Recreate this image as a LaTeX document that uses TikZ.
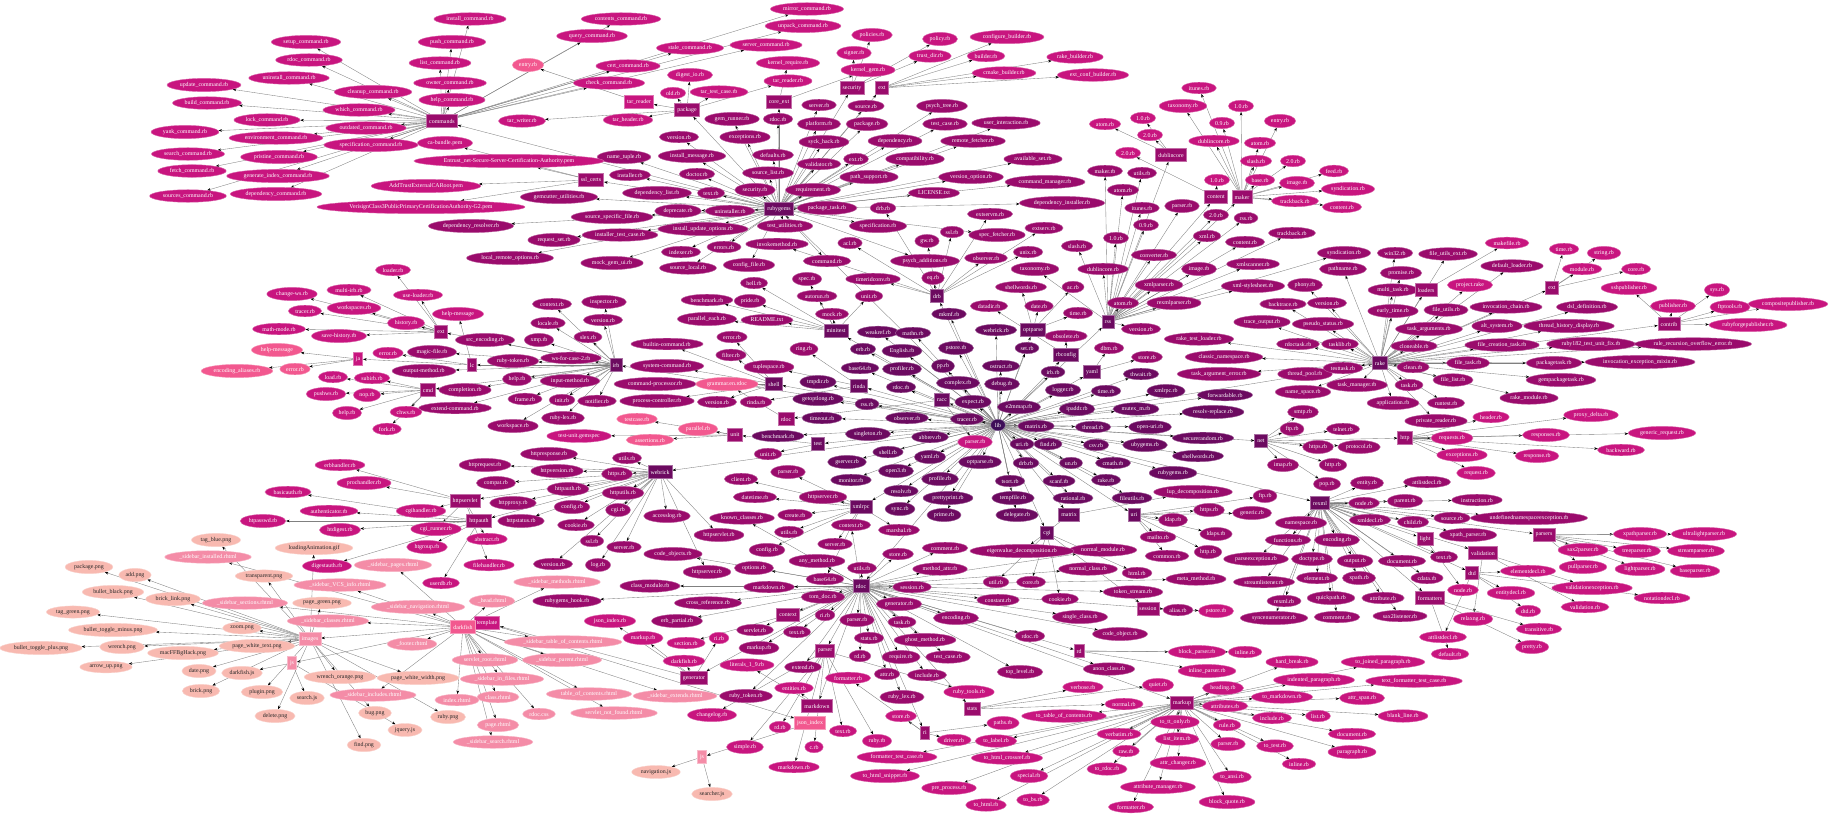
\documentclass[tikz,border=0pt]{standalone}
\usepackage{fontspec}
\setmainfont{Liberation Serif}
\usetikzlibrary{shapes.geometric,arrows.meta}
\pgfdeclarelayer{bgl}
\pgfsetlayers{bgl,main}
\definecolor{cL}{HTML}{3E0E58}
\definecolor{cC}{HTML}{6C0A60}
\definecolor{cB}{HTML}{9A0B6C}
\definecolor{cA}{HTML}{C8157F}
\definecolor{cP}{HTML}{F2588F}
\definecolor{cQ}{HTML}{F48CA7}
\definecolor{cR}{HTML}{F8B9B0}
\tikzset{
  tinyfont/.style={font=\fontsize{5.9}{6.4}\selectfont},
  ovl/.style={ellipse, tinyfont, inner sep=2pt, text=white, fill=#1, draw=#1!65!white, line width=0.4pt},
  ovr/.style={ovl=cR, text=black!85},
  bxx/.style={rectangle, tinyfont, inner xsep=2.6pt, inner ysep=2pt, minimum height=13pt, text=white, fill=#1, draw=#1!60!white, line width=0.7pt},
  lnk/.style={draw=black!50, line width=0.35pt, -{Stealth[length=3.6pt,width=2.6pt,black]}},
}
\newcommand\edgelist{}
\newcommand\myedge[2]{\draw[lnk] (#1) -- (#2);}
\newcommand\mygrp[3]{\foreach \nn/\xa/\ya/\la in {#3}{\node[#1] (\nn) at (\xa,\ya) {\la};\xdef\edgelist{\unexpanded\expandafter{\edgelist}\noexpand\myedge{#2}{\nn}}}}
\catcode`\_=12
\begin{document}
\begin{tikzpicture}[x=1pt,y=-1pt]
\useasboundingbox (0,0) rectangle (1833,816);
\node[ovl=cL] (lib) at (998,425) {lib};
% top-level directories
\mygrp{bxx=cC}{lib}{rg/779/209/rubygems, irb/616/365/irb, shl/774/384/shell, mt/836/331/minitest, rin/859/386/rinda, drb/937/296/drb, opt/1033/330/optparse, rss/1108/322/rss, rbc/1066/355/rbconfig, yml/1092/372/yaml, racc/942/400/racc, net/1261/441/net, rake/1380/363/rake, rex/1320/503/rexml, uri/1134/515/uri, mat/1069/515/matrix, cgi/1047/533/cgi, rdoc/861/586/rdoc, web/660/472/webrick, tst/818/444/test, xr/861/507/xmlrpc}
% top-level files
\mygrp{ovl=cC}{lib}{l1/878/332/weakref.rb, l2/913/333/mathn.rb, l3/863/349/erb.rb, l4/902/351/English.rb, l5/860/368/base64.rb, l6/902/369/profiler.rb, l7/818/382/tmpdir.rb, l8/901/387/rdoc.rb, l9/818/399/getoptlong.rb, l10/867/404/rss.rb, l11/822/418/timeout.rb, l12/907/418/observer.rb, l13/778/436/benchmark.rb, l14/868/434/singleton.rb, l15/888/452/shell.rb, l16/847/462/gserver.rb, l17/896/471/open3.rb, l18/851/480/monitor.rb, l19/901/491/resolv.rb, l20/900/509/sync.rb, l21/949/314/mkmf.rb, l22/996/330/webrick.rb, l23/956/348/pstore.rb, l24/1027/348/set.rb, l25/943/366/pp.rb, l26/1001/366/ostruct.rb, l27/958/383/complex.rb, l28/1002/384/debug.rb, l29/1053/372/irb.rb, l30/1063/390/logger.rb, l31/1106/391/time.rb, l32/1166/391/xmlrpc.rb, l33/1225/395/forwardable.rb, l34/1141/374/thwait.rb, l35/973/402/expect.rb, l36/1019/407/e2mmap.rb, l37/1077/409/ipaddr.rb, l38/1136/409/mutex_m.rb, l39/1213/412/resolv-replace.rb, l40/967/419/tracer.rb, l41/1036/426/matrix.rb, l42/1093/427/thread.rb, l43/1150/427/open-uri.rb, l44/930/437/abbrev.rb, l45/1203/438/securerandom.rb, l46/1022/444/uri.rb, l47/1048/444/find.rb, l48/1096/445/csv.rb, l49/1145/445/ubygems.rb, l50/1198/456/shellwords.rb, l51/930/457/yaml.rb, l52/980/462/optparse.rb, l53/1026/463/drb.rb, l54/1071/463/un.rb, l55/1113/463/cmath.rb, l56/1173/473/rubygems.rb, l57/940/479/profile.rb, l58/1010/481/tsort.rb, l59/1059/481/scanf.rb, l60/1106/480/rake.rb, l61/948/498/prettyprint.rb, l62/1013/498/tempfile.rb, l63/1073/498/rational.rb, l64/1132/498/fileutils.rb, l65/944/515/prime.rb, l66/1017/515/delegate.rb}
% rubygems
\mygrp{ovl=cB}{rg}{g1/819/105/server.rb, g2/866/106/source.rb, g3/778/119/rdoc.rb, g4/732/119/gem_runner.rb, g5/819/124/platform.rb, g6/867/124/package.rb, g7/745/137/exceptions.rb, g8/824/142/syck_hack.rb, g9/895/141/dependency.rb, g10/679/137/version.rb, g11/692/156/install_message.rb, g12/773/155/defaults.rb, g13/856/159/ext.rb, g14/915/159/compatibility.rb, g15/624/157/name_tuple.rb, g16/697/174/doctor.rb, g17/819/164/validator.rb, g18/768/173/source_list.rb, g19/869/177/path_support.rb, g20/630/175/installer.rb, g21/657/193/dependency_list.rb, g22/711/193/text.rb, g23/755/190/security.rb, g24/813/190/requirement.rb, g25/559/197/gemcutter_utilities.rb, g26/827/208/package_task.rb, g27/934/193/LICENSE.txt, g28/678/211/deprecate.rb, g29/730/211/uninstaller.rb, g30/612/217/source_specific_file.rb, g31/878/226/specification.rb, g32/703/229/install_update_options.rb, g33/620/235/installer_test_case.rb, g34/785/226/test_utilities.rb, g35/554/240/request_set.rb, g36/471/226/dependency_resolver.rb, g37/510/258/local_remote_options.rb, g38/681/252/indexer.rb, g39/724/247/errors.rb, g40/827/261/command.rb, g41/612/263/mock_gem_ui.rb, g42/749/265/config_file.rb, g43/688/268/source_local.rb, g44/942/106/psych_tree.rb, g45/945/124/test_case.rb, g46/1006/123/user_interaction.rb, g47/973/141/remote_fetcher.rb, g48/1033/159/available_set.rb, g49/971/177/version_option.rb, g50/1045/182/command_manager.rb, g51/1062/203/dependency_installer.rb, g52/997/235/spec_fetcher.rb, g53/925/261/psych_additions.rb}
\mygrp{bxx=cB}{rg}{cmds/442/121/commands, ssl/591/180/ssl_certs, pkg/687/110/package, cext/779/102/core_ext, sec/852/88/security, gext/882/88/ext}
\mygrp{ovl=cA}{cmds}{c1/470/19/install_command.rb, c2/452/42/push_command.rb, c3/440/63/list_command.rb, c4/450/83/owner_command.rb, c5/452/100/help_command.rb, c6/621/19/contents_command.rb, c7/807/9/mirror_command.rb, c8/803/26/unpack_command.rb, c9/592/36/query_command.rb, c10/690/48/stale_command.rb, c11/766/45/server_command.rb, c12/628/66/cert_command.rb, c13/609/83/check_command.rb, c14/306/42/setup_command.rb, c15/309/60/rdoc_command.rb, c16/289/78/uninstall_command.rb, c17/204/85/update_command.rb, c18/373/92/cleanup_command.rb, c19/207/103/build_command.rb, c20/359/110/which_command.rb, c21/267/120/lock_command.rb, c22/185/132/yank_command.rb, c23/366/128/outdated_command.rb, c24/276/138/environment_command.rb, c25/371/145/specification_command.rb, c26/188/154/search_command.rb, c27/279/157/pristine_command.rb, c28/192/171/fetch_command.rb, c29/278/176/generate_index_command.rb, c30/188/196/sources_command.rb, c31/276/194/dependency_command.rb}
\mygrp{ovl=cA}{ssl}{s1/445/143/ca-bundle.pem, s2/509/161/Entrust_net-Secure-Server-Certification-Authority.pem, s3/426/186/AddTrustExternalCARoot.pem, s4/421/207/VerisignClass3PublicPrimaryCertificationAuthority-G2.pem}
\mygrp{ovl=cA}{pkg}{p1/673/93/old.rb, p2/690/75/digest_io.rb, p3/719/92/tar_test_case.rb, p4/628/120/tar_header.rb, p5/522/121/tar_writer.rb, p6/788/81/tar_reader.rb}
\mygrp{bxx=cA}{pkg}{tarr/639/102/tar_reader}
\mygrp{ovl=cP}{tarr}{pe/528/65/entry.rb}
\mygrp{ovl=cA}{cext}{k1/788/63/kernel_require.rb, k2/868/70/kernel_gem.rb}
\mygrp{ovl=cA}{sec}{y1/872/35/policies.rb, y2/854/53/signer.rb, y3/940/39/policy.rb, y4/930/56/trust_dir.rb}
\mygrp{ovl=cA}{gext}{x1/986/56/builder.rb, x2/1007/37/configure_builder.rb, x3/1075/57/rake_builder.rb, x4/1004/73/cmake_builder.rb, x5/1093/75/ext_conf_builder.rb}
% irb
\mygrp{ovl=cB}{irb}{i1/552/304/context.rb, i2/604/302/inspector.rb, i3/548/323/locale.rb, i4/603/320/version.rb, i5/485/340/src_encoding.rb, i6/539/340/xmp.rb, i7/588/337/slex.rb, i8/513/361/ruby-token.rb, i9/571/358/ws-for-case-2.rb, i10/517/379/help.rb, i11/570/381/input-method.rb, i12/465/390/completion.rb, i13/525/399/frame.rb, i14/562/400/init.rb, i15/597/401/notifier.rb, i16/455/408/extend-command.rb, i17/563/418/ruby-lex.rb, i18/513/426/workspace.rb, i19/432/352/magic-file.rb, i20/424/371/output-method.rb}
\mygrp{bxx=cB}{irb}{iext/441/332/ext, ilc/472/365/lc, icmd/428/390/cmd}
\mygrp{ovl=cA}{iext}{ie1/393/270/loader.rb, ie2/292/294/change-ws.rb, ie3/349/290/multi-irb.rb, ie4/418/295/use-loader.rb, ie5/305/311/tracer.rb, ie6/354/308/workspaces.rb, ie7/406/323/history.rb, ie8/279/329/math-mode.rb, ie9/339/336/save-history.rb}
\mygrp{ovl=cA}{ilc}{lc1/458/314/help-message, lc2/388/353/error.rb}
\mygrp{bxx=cA}{ilc}{ija/358/359/ja}
\mygrp{ovl=cP}{ija}{ja1/277/350/help-message, ja2/237/371/encoding_aliases.rb, ja3/295/369/error.rb}
\mygrp{ovl=cA}{icmd}{cd1/333/377/load.rb, cd2/372/378/subirb.rb, cd3/326/394/pushws.rb, cd4/367/395/nop.rb, cd5/347/413/help.rb, cd6/406/412/chws.rb, cd7/387/429/fork.rb}
% shell, rinda, minitest, racc, test
\mygrp{ovl=cB}{shl}{sh1/732/337/error.rb, sh2/667/344/builtin-command.rb, sh3/731/355/filter.rb, sh4/667/366/system-command.rb, sh5/655/384/command-processor.rb, sh6/657/401/process-controller.rb, sh7/717/402/version.rb}
\mygrp{ovl=cB}{rin}{rn1/804/349/ring.rb, rn2/769/367/tuplespace.rb, rn3/756/402/rinda.rb}
\mygrp{ovl=cB}{mt}{m1/754/283/hell.rb, m2/807/279/spec.rb, m3/817/296/autorun.rb, m4/869/296/unit.rb, m5/707/300/benchmark.rb, m6/750/301/pride.rb, m7/832/314/mock.rb, m8/707/319/parallel_each.rb, m9/767/320/README.txt}
\mygrp{bxx=cB}{racc}{rdb/786/419/rdoc}
\mygrp{ovl=cP}{rdb}{rc1/727/384/grammar.en.rdoc}
\mygrp{ovl=cA}{racc}{rc2/975/442/parser.rb}
\mygrp{bxx=cB}{tst}{tu/735/435/unit}
\mygrp{ovl=cB}{tst}{t1/768/454/unit.rb}
\mygrp{ovl=cP}{tu}{u1/637/419/testcase.rb, u2/698/429/parallel.rb, u3/650/440/assertions.rb}
\mygrp{ovl=cA}{tu}{u4/579/436/test-unit.gemspec}
% webrick
\mygrp{ovl=cB}{web}{w1/549/454/httpresponse.rb, w2/627/458/utils.rb, w3/485/465/httprequest.rb, w4/557/471/httpversion.rb, w5/617/474/https.rb, w6/496/483/compat.rb, w7/568/489/httpauth.rb, w8/623/493/httputils.rb, w9/513/503/httpproxy.rb, w10/572/507/config.rb, w11/618/510/cgi.rb, w12/521/521/httpstatus.rb, w13/576/525/cookie.rb, w14/667/516/accesslog.rb, w15/719/535/httpservlet.rb, w16/592/541/ssl.rb, w17/624/547/server.rb, w18/553/564/version.rb, w19/598/565/log.rb, w20/707/572/httpserver.rb}
\mygrp{bxx=cB}{web}{hsv/465/501/httpservlet, hau/479/521/httpauth}
\mygrp{ovl=cA}{hsv}{hs1/340/465/erbhandler.rb, hs2/364/483/prochandler.rb, hs3/421/511/cgihandler.rb, hs4/436/529/cgi_runner.rb, hs5/487/539/abstract.rb, hs6/489/565/filehandler.rb}
\mygrp{ovl=cA}{hau}{ha1/288/492/basicauth.rb, ha2/329/511/authenticator.rb, ha3/263/521/htpasswd.rb, ha4/340/530/htdigest.rb, ha5/427/547/htgroup.rb, ha6/327/566/digestauth.rb, ha7/441/583/userdb.rb}
% xmlrpc
\mygrp{ovl=cB}{xr}{xr1/788/472/parser.rb, xr2/741/479/client.rb, xr3/823/497/httpserver.rb, xr4/755/497/datetime.rb, xr5/795/515/create.rb, xr6/789/532/utils.rb, xr7/899/530/marshal.rb, xr8/767/550/config.rb, xr9/835/544/server.rb, xr10/825/579/base64.rb}
% rdoc
\mygrp{ovl=cB}{rdoc}{rd1/742/518/known_classes.rb, rd2/851/525/context.rb, rd3/817/561/any_method.rb, rd4/898/554/store.rb, rd5/673/554/code_objects.rb, rd6/754/568/options.rb, rd7/862/568/utils.rb, rd8/650/586/class_module.rb, rd9/769/587/markdown.rb, rd10/912/587/session.rb, rd11/567/601/rubygems_hook.rb, rd12/708/603/cross_reference.rb, rd13/823/597/tom_doc.rb, rd14/899/604/generator.rb, rd15/677/621/erb_partial.rb, rd16/825/615/ri.rb, rd17/857/620/parser.rb, rd18/902/622/task.rb, rd19/755/630/servlet.rb, rd20/797/632/text.rb, rd21/869/638/stats.rb, rd22/925/640/ghost_method.rb, rd23/759/648/markup.rb, rd24/860/656/rd.rb, rd25/901/657/require.rb, rd26/803/667/extend.rb, rd27/887/674/attr.rb, rd28/746/696/ruby_token.rb, rd29/902/697/ruby_lex.rb, rd30/945/548/comment.rb, rd31/1103/550/normal_module.rb, rd32/940/569/method_attr.rb, rd33/1088/569/normal_class.rb, rd34/1196/579/meta_method.rb, rd35/1133/592/token_stream.rb, rd36/998/600/constant.rb, rd37/956/618/encoding.rb, rd38/1080/617/single_class.rb, rd39/1120/634/code_object.rb, rd40/1030/636/rdoc.rb, rd41/948/657/test_case.rb, rd42/1020/672/top_level.rb, rd43/1109/669/anon_class.rb, rd44/927/675/include.rb, rd45/1178/610/alias.rb}
\mygrp{bxx=cB}{rdoc}{mkp/1182/703/markup, stt/972/709/stats, ri/925/733/ri, rdd/1079/651/rd, prs/825/651/parser, mkd/817/706/markdown, gen/694/678/generator, ctx/788/615/context}
\mygrp{ovl=cA}{mkp}{mk1/1223/688/heading.rb, mk2/1292/662/hard_break.rb, mk3/1383/662/to_joined_paragraph.rb, mk4/1314/680/indented_paragraph.rb, mk5/1282/697/to_markdown.rb, mk6/1362/698/attr_span.rb, mk7/1225/706/attributes.rb, mk8/1414/681/text_formatter_test_case.rb, mk9/1403/716/blank_line.rb, mk10/1272/718/include.rb, mk11/1318/716/list.rb, mk12/1352/734/document.rb, mk13/1175/722/to_tt_only.rb, mk14/1227/725/rule.rb, mk15/1119/734/verbatim.rb, mk16/1177/739/list_item.rb, mk17/1228/744/parser.rb, mk18/1275/746/to_test.rb, mk19/1352/752/paragraph.rb, mk20/1126/751/raw.rb, mk21/1178/763/attr_changer.rb, mk22/1299/764/inline.rb, mk23/1107/769/to_rdoc.rb, mk24/1232/777/to_ansi.rb, mk25/1158/787/attribute_manager.rb, mk26/1227/802/block_quote.rb, mk27/1131/807/formatter.rb, mk28/1064/716/to_table_of_contents.rb, mk29/996/741/to_label.rb, mk30/1007/758/to_html_crossref.rb, mk31/1029/776/special.rb, mk32/949/788/pre_process.rb, mk33/986/805/to_html.rb, mk34/1033/800/to_bs.rb, mk35/897/757/formatter_test_case.rb, mk36/885/776/to_html_snippet.rb}
\mygrp{ovl=cA}{stt}{st1/1083/687/verbose.rb, st2/1158/685/quiet.rb, st3/1124/704/normal.rb}
\mygrp{ovl=cA}{ri}{ri1/1003/723/paths.rb, ri2/954/740/driver.rb, ri3/901/716/store.rb, ri4/848/678/formatter.rb}
\mygrp{ovl=cA}{rdd}{rdd1/1197/652/block_parser.rb, rdd2/1245/652/inline.rb, rdd3/1207/671/inline_parser.rb}
\mygrp{ovl=cA}{prs}{pr1/969/692/ruby_tools.rb, pr2/712/715/changelog.rb, pr3/780/727/rd.rb, pr4/843/731/text.rb, pr5/877/741/ruby.rb, pr6/745/747/simple.rb, pr7/814/747/c.rb, pr8/794/767/markdown.rb}
\mygrp{ovl=cA}{mkd}{md1/747/665/literals_1_9.rb, md2/794/688/entities.rb}
\mygrp{ovl=cA}{gen}{gn1/684/661/darkfish.rb, gn2/643/638/markup.rb, gn3/719/638/ri.rb, gn4/610/621/json_index.rb}
\mygrp{ovl=cA}{ctx}{cx1/686/643/section.rb}
\mygrp{bxx=cA}{gen}{tpl/487/623/template}
\mygrp{bxx=cP}{tpl}{dfb/463/627/darkfish, jib/810/723/json_index}
\mygrp{ovl=cQ}{dfb}{df1/557/582/_sidebar_methods.rhtml, df2/492/601/_head.rhtml, df3/563/642/_sidebar_table_of_contents.rhtml, df4/485/660/servlet_root.rhtml, df5/562/660/_sidebar_parent.rhtml, df6/502/679/_sidebar_in_files.rhtml, df7/589/694/table_of_contents.rhtml, df8/675/696/_sidebar_extends.rhtml, df9/498/697/class.rhtml, df10/539/714/rdoc.css, df11/614/713/servlet_not_found.rhtml, df12/498/725/page.rhtml, df13/493/742/_sidebar_search.rhtml, df14/457/700/index.rhtml, df15/208/557/_sidebar_installed.rhtml, df16/393/565/_sidebar_pages.rhtml, df17/340/585/_sidebar_VCS_info.rhtml, df18/245/603/_sidebar_sections.rhtml, df19/418/607/_sidebar_navigation.rhtml, df20/328/621/_sidebar_classes.rhtml, df21/412/644/_footer.rhtml, df22/373/695/_sidebar_includes.rhtml}
\mygrp{bxx=cQ}{dfb}{img/310/639/images, js1/292/663/js}
\mygrp{ovr}{img}{im1/314/548/loadingAnimation.gif, im2/89/567/package.png, im3/135/575/add.png, im4/264/576/transparent.png, im5/113/592/bullet_black.png, im6/173/599/brick_link.png, im7/322/603/page_green.png, im8/73/612/tag_green.png, im9/242/628/zoom.png, im10/113/630/bullet_toggle_minus.png, im11/41/648/bullet_toggle_plus.png, im12/122/647/wrench.png, im13/257/646/page_white_text.png, im14/183/653/macFFBgHack.png, im15/106/667/arrow_up.png, im16/199/671/date.png, im17/340/677/wrench_orange.png, im18/418/678/page_white_width.png, im19/201/691/brick.png, im20/262/692/plugin.png, im21/275/716/delete.png, im22/375/713/bug.png, im23/448/717/ruby.png, im24/364/745/find.png, im25/216/540/tag_blue.png}
\mygrp{ovr}{js1}{jj1/242/673/darkfish.js, jj2/307/698/search.js, jj3/405/730/jquery.js}
\mygrp{bxx=cQ}{jib}{js2/702/757/js}
\mygrp{ovr}{js2}{jn1/656/772/navigation.js, jn2/712/794/searcher.js}
% cgi, matrix, uri, net
\mygrp{ovl=cB}{cgi}{cg1/996/582/util.rb, cg2/1031/582/core.rb, cg3/1060/599/cookie.rb, cg4/1137/573/html.rb}
\mygrp{bxx=cB}{cgi}{ses/1148/609/session}
\mygrp{ovl=cA}{ses}{cs1/1216/611/pstore.rb}
\mygrp{ovl=cB}{mat}{ma1/1193/492/lup_decomposition.rb, ma2/1022/551/eigenvalue_decomposition.rb}
\mygrp{ovl=cB}{uri}{ur1/1265/496/ftp.rb, ur2/1209/510/https.rb, ur3/1252/513/generic.rb, ur4/1173/520/ldap.rb, ur5/1216/534/ldaps.rb, ur6/1158/537/mailto.rb, ur7/1167/556/common.rb, ur8/1208/552/http.rb}
\mygrp{ovl=cB}{net}{n1/1303/412/smtp.rb, n2/1292/429/ftp.rb, n3/1343/429/telnet.rb, n4/1318/447/https.rb, n5/1359/447/protocol.rb, n6/1283/465/imap.rb, n7/1333/465/http.rb, n8/1327/484/pop.rb}
\mygrp{bxx=cB}{net}{nh/1405/438/http}
\mygrp{ovl=cA}{nh}{h1/1491/417/header.rb, h2/1591/415/proxy_delta.rb, h3/1452/438/requests.rb, h4/1546/435/responses.rb, h5/1662/433/generic_request.rb, h6/1621/450/backward.rb, h7/1462/455/exceptions.rb, h8/1537/456/response.rb, h9/1476/473/request.rb}
% rexml
\mygrp{ovl=cB}{rex}{re1/1367/483/entity.rb, re2/1427/482/attlistdecl.rb, re3/1364/503/node.rb, re4/1405/501/parent.rb, re5/1477/500/instruction.rb, re6/1370/520/xmldecl.rb, re7/1413/522/child.rb, re8/1452/518/source.rb, re9/1529/518/undefinednamespaceexception.rb, re10/1468/535/xpath_parser.rb, re11/1301/523/namespace.rb, re12/1288/540/functions.rb, re13/1337/540/encoding.rb, re14/1256/559/parseexception.rb, re15/1312/559/doctype.rb, re16/1355/561/output.rb, re17/1317/578/element.rb, re18/1359/578/xpath.rb, re19/1264/582/streamlistener.rb, re20/1284/601/rexml.rb, re21/1331/598/quickpath.rb, re22/1274/618/syncenumerator.rb, re23/1337/617/comment.rb, re24/1444/557/text.rb, re25/1402/561/document.rb, re26/1427/578/cdata.rb, re27/1383/598/attribute.rb, re28/1400/616/sax2listener.rb}
\mygrp{bxx=cB}{rex}{lt/1425/539/light, ps/1544/535/parsers, vl/1483/553/validation, dt/1472/573/dtd, fm/1430/598/formatters}
\mygrp{ovl=cA}{lt}{lt1/1463/590/node.rb}
\mygrp{ovl=cA}{ps}{ps1/1640/534/xpathparser.rb, ps2/1704/534/ultralightparser.rb, ps3/1583/550/sax2parser.rb, ps4/1637/551/treeparser.rb, ps5/1696/551/streamparser.rb, ps6/1583/567/pullparser.rb, ps7/1640/569/lightparser.rb, ps8/1695/571/baseparser.rb}
\mygrp{ovl=cA}{vl}{vl1/1592/588/validationexception.rb, vl2/1585/607/validation.rb, vl3/1473/619/relaxng.rb}
\mygrp{ovl=cA}{dt}{dt1/1528/571/elementdecl.rb, dt2/1511/593/entitydecl.rb, dt3/1662/598/notationdecl.rb, dt4/1528/611/dtd.rb, dt5/1443/637/attlistdecl.rb}
\mygrp{ovl=cA}{fm}{fm1/1539/629/transitive.rb, fm2/1532/647/pretty.rb, fm3/1450/654/default.rb}
% rss
\mygrp{ovl=cB}{rss}{rs1/1159/285/xmlparser.rb, rs2/1253/286/xml-stylesheet.rb, rs3/1174/303/rexmlparser.rb, rs4/1253/264/xmlscanner.rb, rs5/1199/269/image.rb, rs6/1103/269/dublincore.rb, rs7/1154/255/converter.rb, rs8/1077/246/slash.rb, rs9/1116/238/1.0.rb, rs10/1207/236/xml.rb, rs11/1245/242/content.rb, rs12/1292/233/trackback.rb, rs13/1344/253/syndication.rb, rs14/1146/225/0.9.rb, rs15/1216/215/2.0.rb, rs16/1246/218/rss.rb, rs17/1142/208/itunes.rb, rs18/1182/206/parser.rb, rs19/1123/190/atom.rb, rs20/1142/173/utils.rb, rs21/1105/171/maker.rb, rs22/1035/269/taxonomy.rb, rs23/1141/329/version.rb, rs24/1123/303/atom.rb}
\mygrp{bxx=cB}{rss}{mkr/1242/197/maker, cnt/1216/197/content, dcb/1171/155/dublincore}
\mygrp{ovl=cA}{mkr}{mr1/1199/88/itunes.rb, mr2/1183/106/taxonomy.rb, mr3/1241/106/1.0.rb, mr4/1222/123/0.9.rb, mr5/1280/121/entry.rb, mr6/1214/141/dublincore.rb, mr7/1260/143/atom.rb, mr8/1256/161/slash.rb, mr9/1293/161/2.0.rb, mr10/1260/180/base.rb, mr11/1297/183/image.rb, mr12/1334/171/feed.rb, mr13/1348/189/syndication.rb, mr14/1295/201/trackback.rb, mr15/1342/207/content.rb}
\mygrp{ovl=cA}{cnt}{cn1/1217/180/1.0.rb, cn2/1128/153/2.0.rb}
\mygrp{ovl=cA}{dcb}{dc1/1143/118/1.0.rb, dc2/1150/135/2.0.rb, dc3/1105/124/atom.rb}
% optparse, rbconfig, yaml, drb
\mygrp{ovl=cB}{opt}{op1/1021/287/shellwords.rb, op2/1073/287/ac.rb, op3/1039/306/date.rb, op4/1078/313/time.rb}
\mygrp{ovl=cB}{rbc}{rb1/989/306/datadir.rb, rb2/1066/336/obsolete.rb}
\mygrp{ovl=cB}{yml}{ya1/1109/348/dbm.rb, ya2/1147/357/store.rb}
\mygrp{ovl=cB}{drb}{dr1/873/279/timeridconv.rb, dr2/933/278/eq.rb, dr3/927/241/gw.rb, dr4/986/258/observer.rb, dr5/1028/252/unix.rb, dr6/1044/228/extserv.rb, dr7/990/214/extservm.rb, dr8/952/232/ssl.rb, dr9/850/243/acl.rb, dr10/777/244/invokemethod.rb, dr11/883/208/drb.rb}
% rake
\mygrp{ovl=cB}{rake}{rk1/1305/285/phony.rb, rk2/1283/304/backtrace.rb, rk3/1327/303/version.rb, rk4/1262/322/trace_output.rb, rk5/1323/324/pseudo_status.rb, rk6/1199/339/rake_test_loader.rb, rk7/1298/344/rdoctask.rb, rk8/1340/344/tasklib.rb, rk9/1224/357/classic_namespace.rb, rk10/1219/374/task_argument_error.rb, rk11/1305/374/thread_pool.rb, rk12/1343/368/testtask.rb, rk13/1303/392/name_space.rb, rk14/1357/385/task_manager.rb, rk15/1395/253/win32.rb, rk16/1448/254/file_utils_ext.rb, rk17/1512/266/default_loader.rb, rk18/1401/273/promise.rb, rk19/1393/290/multi_task.rb, rk20/1393/311/early_time.rb, rk21/1446/310/file_utils.rb, rk22/1506/307/invocation_chain.rb, rk23/1587/307/dsl_definition.rb, rk24/1429/329/task_arguments.rb, rk25/1497/326/alt_system.rb, rk26/1569/326/thread_history_display.rb, rk27/1414/346/cloneable.rb, rk28/1502/345/file_creation_task.rb, rk29/1591/344/ruby182_test_unit_fix.rb, rk30/1693/344/rule_recursion_overflow_error.rb, rk31/1413/367/clean.rb, rk32/1468/363/file_task.rb, rk33/1554/363/packagetask.rb, rk34/1640/362/invocation_exception_mixin.rb, rk35/1453/380/file_list.rb, rk36/1561/380/gempackagetask.rb, rk37/1409/385/task.rb, rk38/1446/403/runtest.rb, rk39/1529/398/rake_module.rb, rk40/1393/403/application.rb, rk41/1436/421/private_reader.rb, rk42/1343/269/pathname.rb}
\mygrp{ovl=cA}{rake}{rk43/1470/285/project.rake}
\mygrp{bxx=cB}{rake}{ldr/1426/290/loaders, rext/1552/288/ext, ctb/1669/324/contrib}
\mygrp{ovl=cA}{ldr}{lo1/1507/243/makefile.rb}
\mygrp{ovl=cA}{rext}{rx1/1564/249/time.rb, rx2/1604/253/string.rb, rx3/1582/269/module.rb, rx4/1636/269/core.rb}
\mygrp{ovl=cA}{ctb}{ct1/1629/288/sshpublisher.rb, ct2/1717/290/sys.rb, ct3/1673/306/publisher.rb, ct4/1730/307/ftptools.rb, ct5/1788/304/compositepublisher.rb, ct6/1748/325/rubyforgepublisher.rb}
% white page and all connectors, behind the nodes
\begin{pgfonlayer}{bgl}
\fill[white] (0,0) rectangle (1833,816);
\edgelist
\end{pgfonlayer}
\end{tikzpicture}
\end{document}
